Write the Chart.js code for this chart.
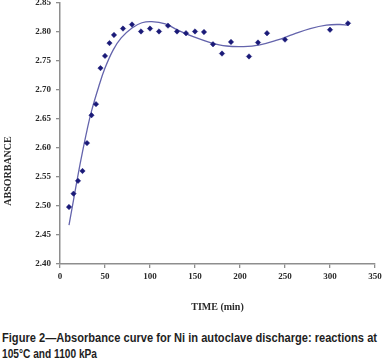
<!DOCTYPE html>
<html><head><meta charset="utf-8">
<script src="https://cdn.jsdelivr.net/npm/chart.js@4.4.0/dist/chart.umd.min.js"></script>
<style>
html,body{margin:0;padding:0;background:#fff;}
#wrap{position:relative;width:386px;height:360px;overflow:hidden;background:#fff;}
#cv{position:absolute;left:0;top:-8px;}
.cap{position:absolute;left:2px;font:bold 12px "Liberation Sans",Arial,sans-serif;color:#1e1e1e;white-space:nowrap;transform-origin:0 0;line-height:16px;}
</style></head><body>
<div id="wrap">
<canvas id="cv" width="386" height="330"></canvas>
<div class="cap" data-w="375" style="top:330px">Figure 2—Absorbance curve for Ni in autoclave discharge: reactions at</div>
<div class="cap" data-w="95" style="top:346px">105°C and 1100 kPa</div>
</div>
<script>
// measured data (time in min, absorbance)
const times  = [10,15,20,25,30,35,40,45,50,55,60,70,80,90,100,110,120,130,140,150,160,170,180,190,210,220,230,250,300,320];
const absorb = [2.498,2.521,2.543,2.560,2.608,2.656,2.675,2.737,2.758,2.780,2.794,2.805,2.812,2.800,2.805,2.800,2.810,2.800,2.797,2.800,2.799,2.778,2.762,2.782,2.757,2.781,2.797,2.786,2.803,2.814];
// fitted trend curve
const curveT = [10,15,20,25,30,35,43,50,59,68,80,91,102,117,130,148,167,185,204,222,241,259,278,296,311,320];
const curveV = [2.467,2.510,2.553,2.593,2.630,2.663,2.705,2.737,2.768,2.789,2.806,2.815,2.817,2.813,2.803,2.791,2.781,2.775,2.774,2.777,2.785,2.795,2.805,2.811,2.812,2.811];
const xTicks = [0,50,100,150,200,250,300,350];
const yTicks = [2.40,2.45,2.50,2.55,2.60,2.65,2.70,2.75,2.80,2.85];
const xTitle = 'TIME (min)';
const yTitle = 'ABSORBANCE';

document.querySelectorAll('.cap').forEach(el=>{
  const w = el.getBoundingClientRect().width;
  el.style.transform = 'scaleX(' + (parseFloat(el.dataset.w)/w) + ')';
});

const axisColor = '#8e8e8e';
const tickFont = {family:'"Liberation Serif","Times New Roman",serif', size:9, weight:'bold'};

const yTitlePlugin = {
  id:'yTitle',
  afterDraw(c){
    const ctx = c.ctx;
    ctx.save();
    ctx.translate(8.5, 179);
    ctx.rotate(-Math.PI/2);
    ctx.font = 'bold 10px "Liberation Serif","Times New Roman",serif';
    ctx.fillStyle = '#2a2a2a';
    ctx.textAlign = 'center';
    ctx.textBaseline = 'middle';
    ctx.fillText(yTitle, 0, 0);
    ctx.restore();
  }
};

new Chart(document.getElementById('cv'), {
  type:'scatter',
  data:{
    datasets:[
      {
        label:'Absorbance',
        data: times.map((t,i)=>({x:t, y:absorb[i]})),
        showLine:false,
        pointStyle:'rectRot',
        pointRadius:2.7,
        backgroundColor:'#1a1a78',
        borderColor:'#1a1a78',
        borderWidth:0.5,
        order:0
      },
      {
        label:'Trend',
        data: curveT.map((t,i)=>({x:t, y:curveV[i]})),
        showLine:true,
        pointRadius:0,
        borderColor:'#6464ac',
        borderWidth:1.3,
        tension:0.4,
        order:1
      }
    ]
  },
  options:{
    responsive:false,
    animation:false,
    devicePixelRatio:1,
    layout:{padding:{top:10,right:11,left:0,bottom:0}},
    plugins:{legend:{display:false}, tooltip:{enabled:false}},
    scales:{
      x:{
        type:'linear', min:xTicks[0], max:xTicks[xTicks.length-1],
        afterBuildTicks(s){ s.ticks = xTicks.map(v=>({value:v})); },
        afterFit(s){ s.height = 58; },
        ticks:{font:tickFont, color:'#2a2a2a', padding:3, maxRotation:0, callback:v=>String(v)},
        grid:{display:true, drawOnChartArea:false, drawTicks:true, tickLength:4, color:axisColor, lineWidth:1.3},
        border:{display:true, color:axisColor, width:1.5},
        title:{display:true, text:xTitle, color:'#2a2a2a', font:{family:'"Liberation Serif","Times New Roman",serif', size:10, weight:'bold'}, padding:{top:0,bottom:9}}
      },
      y:{
        type:'linear', min:yTicks[0], max:yTicks[yTicks.length-1],
        afterBuildTicks(s){ s.ticks = yTicks.map(v=>({value:v})); },
        afterFit(s){ s.width = 60; },
        ticks:{font:tickFont, color:'#2a2a2a', padding:5, callback:v=>Number(v).toFixed(2)},
        grid:{display:true, drawOnChartArea:false, drawTicks:true, tickLength:4, color:axisColor, lineWidth:1.3},
        border:{display:true, color:axisColor, width:1.5}
      }
    }
  },
  plugins:[yTitlePlugin]
});
</script>
</body></html>
